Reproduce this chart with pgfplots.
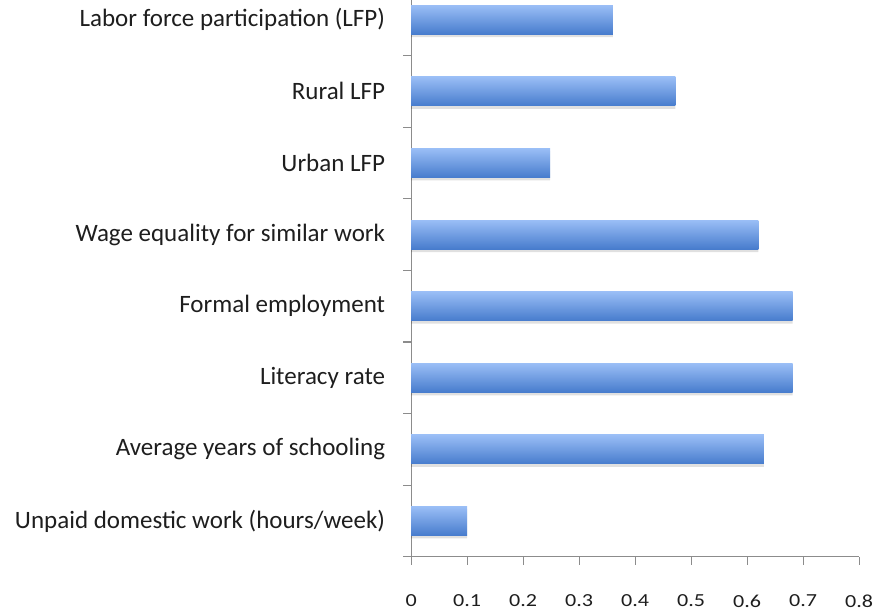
\documentclass[border=0pt]{standalone}
\usepackage{pgfplots}
\pgfplotsset{compat=1.18}
\usepackage{fontspec}
\setmainfont{Carlito}
\newfontfamily\tickfont[FakeStretch=1.2]{Carlito}
\definecolor{axgray}{HTML}{8C8C8C}
\definecolor{bartop}{HTML}{9ABEF6}
\definecolor{barbot}{HTML}{477CCD}
\definecolor{txt}{HTML}{1E1E1E}
\pgfplotsset{gbar/.style={draw=none, top color=bartop, bottom color=barbot, bar shift=0pt, forget plot}}
\begin{document}
\begin{tikzpicture}
\begin{axis}[
  scale only axis, width=224pt, height=286.4pt,
  xbar, bar width=14.5pt,
  xmin=0, xmax=0.8, ymin=-0.5, ymax=7.5,
  axis x line*=bottom, axis y line*=left,
  axis line style={axgray, line width=0.6pt},
  xtick={0,0.1,0.2,0.3,0.4,0.5,0.6,0.7,0.8},
  ytick={0,...,7},
  yticklabels={Unpaid domestic work (hours/week), Average years of schooling, Literacy rate, Formal employment, Wage equality for similar work, Urban LFP, Rural LFP, Labor force participation (LFP)},
  minor ytick={-0.5,0.5,...,7.5},
  tick align=outside,
  major tick length=4pt, minor tick length=4pt,
  major y tick style={draw=none},
  tick style={axgray, line width=0.6pt},
  /pgf/number format/assume math mode=true,
  yticklabel style={font=\fontsize{12.5}{14}\selectfont, text=txt, xshift=-5.5pt},
  xticklabel style={font=\tickfont\fontsize{9.2}{10}\selectfont, text=txt, yshift=-11.5pt},
]
% soft shadow under the bars
\addplot[draw=none, fill=black, opacity=0.12, bar shift=-1.5pt] coordinates
  {(0.10,0) (0.63,1) (0.681,2) (0.681,3) (0.62,4) (0.248,5) (0.472,6) (0.36,7)};
% one plot per bar so each gets its own gradient
\addplot[gbar] coordinates {(0.10,0)};
\addplot[gbar] coordinates {(0.63,1)};
\addplot[gbar] coordinates {(0.681,2)};
\addplot[gbar] coordinates {(0.681,3)};
\addplot[gbar] coordinates {(0.62,4)};
\addplot[gbar] coordinates {(0.248,5)};
\addplot[gbar] coordinates {(0.472,6)};
\addplot[gbar] coordinates {(0.36,7)};
\coordinate (bbbl) at (axis cs:-0.734,-1.254);
\coordinate (bbtr) at (axis cs:0.830,7.275);
\end{axis}
\pgfresetboundingbox
\useasboundingbox (bbbl) rectangle (bbtr);
\end{tikzpicture}
\end{document}
